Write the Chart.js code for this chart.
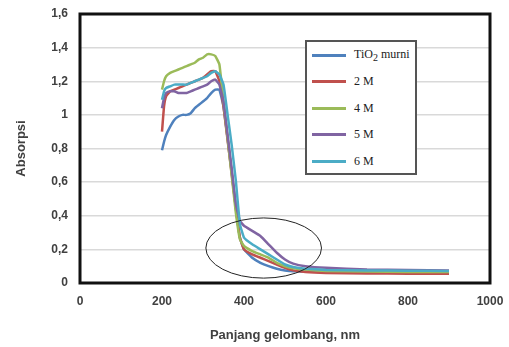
<!DOCTYPE html>
<html>

<head>
    <title>Absorpsi UV-Vis</title>
    <script src="https://cdn.jsdelivr.net/npm/chart.js"></script>
    <style>
        body {
            margin: 0;
            background: #ffffff;
        }

        #wrap {
            position: relative;
            width: 509px;
            height: 347px;
        }

        #legend {
            position: absolute;
            left: 305px;
            top: 40px;
            width: 108px;
            height: 131px;
            border: 2px solid #555;
            background: #fff;
            font-family: "Liberation Serif", serif;
            font-size: 12px;
            color: #222;
        }

        #legend .item {
            position: absolute;
            left: 5px;
            height: 14px;
            display: flex;
            align-items: center;
        }

        #legend .swatch {
            width: 34px;
            height: 3px;
            margin-right: 8px;
        }
    </style>
</head>

<body>
    <div id="wrap">
        <canvas id="absChart" width="509" height="347"></canvas>
        <div id="legend"></div>
    </div>

    <script>
        // wavelength (nm)
        const wavelengths = [200, 205, 210, 220, 230, 240, 250, 260, 270, 280, 290, 300, 310, 320, 330, 340, 350, 360, 370, 380, 390, 400, 420, 440, 460, 480, 500, 520, 550, 600, 700, 800, 900];

        const seriesNames = ['TiO<sub>2</sub> murni', '2 M', '4 M', '5 M', '6 M'];
        const seriesColors = ['#4F81BD', '#C0504D', '#9BBB59', '#8064A2', '#4BACC6'];

        const murni = [0.79, 0.84, 0.88, 0.93, 0.97, 0.99, 1.0, 1.0, 1.01, 1.04, 1.06, 1.08, 1.1, 1.13, 1.15, 1.15, 1.05, 0.86, 0.66, 0.45, 0.27, 0.2, 0.15, 0.12, 0.1, 0.085, 0.075, 0.07, 0.068, 0.066, 0.065, 0.065, 0.065];
        const m2 = [0.9, 1.05, 1.11, 1.14, 1.15, 1.16, 1.17, 1.18, 1.19, 1.2, 1.21, 1.22, 1.24, 1.26, 1.26, 1.2, 1.05, 0.85, 0.65, 0.45, 0.27, 0.2, 0.17, 0.15, 0.13, 0.11, 0.09, 0.075, 0.065, 0.06, 0.057, 0.055, 0.055];
        const m4 = [1.15, 1.2, 1.23, 1.25, 1.26, 1.27, 1.28, 1.29, 1.3, 1.31, 1.33, 1.34, 1.36, 1.36, 1.35, 1.3, 1.08, 0.86, 0.64, 0.42, 0.26, 0.22, 0.19, 0.17, 0.15, 0.12, 0.1, 0.088, 0.08, 0.072, 0.068, 0.066, 0.065];
        const m5 = [1.04, 1.1, 1.13, 1.14, 1.14, 1.13, 1.13, 1.13, 1.14, 1.15, 1.16, 1.17, 1.18, 1.2, 1.21, 1.18, 1.08, 0.88, 0.68, 0.47, 0.37, 0.34, 0.31, 0.28, 0.23, 0.18, 0.14, 0.115, 0.1, 0.09, 0.08, 0.078, 0.075];
        const m6 = [1.09, 1.14, 1.16, 1.17, 1.18, 1.18, 1.18, 1.18, 1.19, 1.2, 1.21, 1.22, 1.23, 1.25, 1.26, 1.24, 1.18, 1.0, 0.82, 0.61, 0.35, 0.27, 0.23, 0.2, 0.17, 0.14, 0.11, 0.095, 0.085, 0.078, 0.075, 0.073, 0.072];

        const seriesValues = [murni, m2, m4, m5, m6];

        const datasets = seriesValues.map((vals, i) => ({
            label: seriesNames[i].replace(/<[^>]+>/g, ''),
            data: vals.map((v, j) => ({ x: wavelengths[j], y: v })),
            borderColor: seriesColors[i],
            backgroundColor: seriesColors[i],
            borderWidth: 2.5,
            pointRadius: 0,
            tension: 0.1,
            order: 5 - i
        }));

        // frame around the plot area + the circled region
        const framePlugin = {
            id: 'frame',
            afterDatasetsDraw(chart) {
                const c = chart.ctx;
                const a = chart.chartArea;
                const xs = chart.scales.x;
                const ys = chart.scales.y;
                c.save();
                // ellipse around the 400-550 nm tail
                const cx = xs.getPixelForValue(448);
                const cy = ys.getPixelForValue(0.208);
                const rx = xs.getPixelForValue(448 + 141) - cx;
                const ry = cy - ys.getPixelForValue(0.208 + 0.179);
                c.strokeStyle = '#222';
                c.lineWidth = 1;
                c.beginPath();
                c.ellipse(cx, cy, rx, ry, 0, 0, Math.PI * 2);
                c.stroke();
                // plot border
                c.strokeStyle = '#111';
                c.lineWidth = 3;
                c.strokeRect(a.left, a.top, a.right - a.left, a.bottom - a.top);
                c.restore();
            }
        };

        const tickFont = { family: 'Liberation Sans', size: 12, weight: 'bold' };
        const titleFont = { family: 'Liberation Sans', size: 13, weight: 'bold' };

        const chart = new Chart(document.getElementById('absChart').getContext('2d'), {
            type: 'line',
            data: { datasets },
            options: {
                responsive: false,
                animation: false,
                layout: { padding: { left: 10, right: 19, top: 14, bottom: 0 } },
                plugins: {
                    legend: { display: false },
                    tooltip: { enabled: false }
                },
                scales: {
                    x: {
                        type: 'linear',
                        min: 0,
                        max: 1000,
                        ticks: {
                            stepSize: 200,
                            padding: 11,
                            color: '#404040',
                            font: tickFont,
                            maxRotation: 0,
                            callback: v => String(v)
                        },
                        grid: { display: false, drawTicks: false },
                        border: { display: false },
                        title: { display: true, text: 'Panjang gelombang, nm', color: '#404040', font: titleFont },
                        afterFit(scale) {
                            scale.height = 64;
                            scale.paddingLeft = 0;
                            scale.paddingRight = 0;
                        }
                    },
                    y: {
                        min: 0,
                        max: 1.6,
                        ticks: {
                            stepSize: 0.2,
                            padding: 12,
                            color: '#404040',
                            font: tickFont,
                            callback: v => (Math.round(v * 10) / 10).toString().replace('.', ',')
                        },
                        grid: { color: '#d9d9d9', lineWidth: 1.5, drawTicks: false },
                        border: { display: false },
                        title: { display: true, text: 'Absorpsi', color: '#404040', font: titleFont },
                        afterFit(scale) {
                            scale.width = 70;
                            scale.paddingTop = 0;
                            scale.paddingBottom = 0;
                        }
                    }
                }
            },
            plugins: [framePlugin]
        });

        // legend box (built from the series names and colours)
        const legendEl = document.getElementById('legend');
        seriesNames.forEach((name, i) => {
            const item = document.createElement('div');
            item.className = 'item';
            item.style.top = (6 + i * 26.5) + 'px';
            item.innerHTML = '<span class="swatch" style="background:' + seriesColors[i] + '"></span><span>' + name + '</span>';
            legendEl.appendChild(item);
        });
    </script>
</body>

</html>
